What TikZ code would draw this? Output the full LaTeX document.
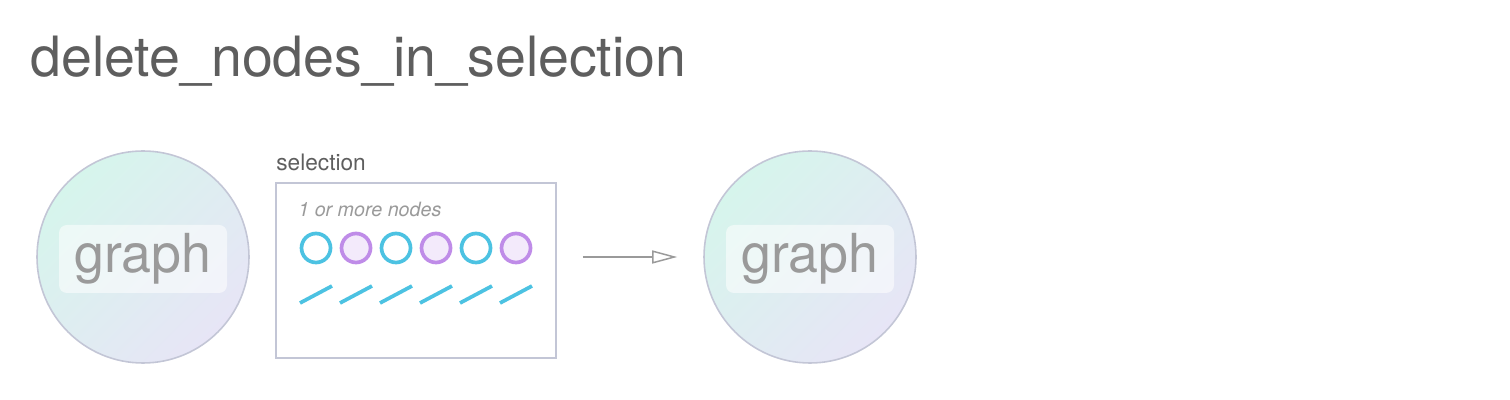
\documentclass[tikz,border=0pt]{standalone}
\usepackage{fontspec}
\setmainfont{TeX Gyre Heros}
\usepackage{tikz}
\usetikzlibrary{arrows.meta,positioning}
\definecolor{inkgray}{HTML}{5E5E5E}
\definecolor{softgray}{HTML}{9A9A9A}
\definecolor{rimgray}{HTML}{C3C6D6}
\definecolor{mint}{HTML}{D6F5EC}
\definecolor{lavender}{HTML}{E7E5F6}
\definecolor{skyblue}{HTML}{4CC2E2}
\definecolor{orchid}{HTML}{BF8CE8}
\definecolor{orchidfill}{HTML}{F3EAFB}
\tikzset{
  graphball/.style={
    circle, draw=rimgray, line width=0.9pt,
    top color=mint, bottom color=lavender, shading angle=45,
    minimum size=4.24cm, inner sep=0pt
  },
  graphlabel/.style={
    rectangle, rounded corners=0.16cm, fill=white, fill opacity=0.55,
    text opacity=1, text=softgray, font=\fontsize{30.6}{32}\selectfont,
    minimum width=3.36cm, minimum height=1.36cm, inner sep=0pt
  },
  selbox/.style={
    rectangle, draw=rimgray, line width=0.9pt, fill=white,
    minimum width=5.6cm, minimum height=3.5cm
  },
  itemdot/.style={
    circle, draw=#1, line width=2.1pt, minimum size=0.58cm, inner sep=0pt
  },
  itemdot/.default=skyblue,
  edgemark/.style={draw=skyblue, line width=2.1pt},
  flowarrow/.style={
    -{Triangle[open, length=0.5cm, width=0.26cm]}, draw=softgray,
    line width=0.85pt
  },
}
\begin{document}
\begin{tikzpicture}
  \useasboundingbox (0,0) rectangle (30.2,8);

  % Title
  \node[anchor=base west, inner sep=0pt, text=inkgray,
    font=\fontsize{31.6}{34}\selectfont] (title) at (0.6,6.46)
    {delete\_nodes\_in\_selection};

  % Input graph
  \node[graphball] (g1) at (2.86,2.86) {};
  \node[graphlabel] (g1lbl) at ([yshift=-0.04cm]g1.center) {graph};

  % Selection
  \node[selbox] (sel) at (8.32,2.59) {};
  \node[anchor=base west, inner sep=0pt, text=inkgray,
    font=\fontsize{12.9}{14}\selectfont] (sellbl) at (5.52,4.58) {selection};
  \node[anchor=base west, inner sep=0pt, text=softgray,
    font=\itshape\fontsize{11.2}{13}\selectfont] (hint) at (5.96,3.66)
    {1 or more nodes};
  \foreach \i in {0,...,5} {
    \pgfmathsetmacro{\cx}{6.32+0.8*\i}
    \ifodd\i
      \node[itemdot=orchid, fill=orchidfill] (n\i) at (\cx,3.04) {};
    \else
      \node[itemdot] (n\i) at (\cx,3.04) {};
    \fi
    \draw[edgemark] (\cx-0.32,1.94) -- (\cx+0.32,2.28);
  }

  % Output graph
  \node[graphball] (g2) at (16.2,2.86) {};
  \node[graphlabel] (g2lbl) at ([yshift=-0.04cm]g2.center) {graph};

  \draw[flowarrow, shorten <=0.52cm, shorten >=0.52cm]
    (sel.east |- g2.center) -- (g2.west);
\end{tikzpicture}
\end{document}
